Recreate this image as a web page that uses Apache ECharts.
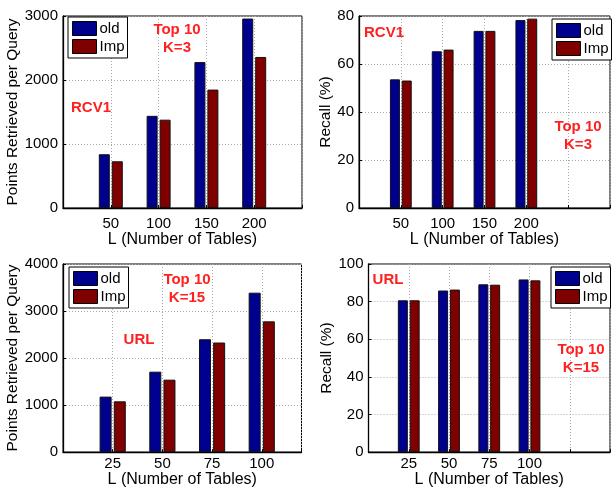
<!DOCTYPE html>
<html>
<head>
<meta charset="utf-8">
<script src="https://cdn.jsdelivr.net/npm/echarts@6/dist/echarts.min.js"></script>
<style>
html,body{margin:0;padding:0;background:#fff;}
#chart{width:613px;height:489px;}
</style>
</head>
<body>
<div id="chart"></div>
<script>
// ---- data ----
const seriesNames = ['old', 'Imp'];
// Panel A: RCV1, points retrieved (K=3)
const tablesA = [50, 100, 150, 200];
const pointsOldA = [840, 1440, 2280, 2960];
const pointsImpA = [730, 1380, 1850, 2360];
// Panel B: RCV1, recall (K=3)
const recallOldB = [53.6, 65.3, 73.8, 78.3];
const recallImpB = [53.1, 66.0, 73.8, 78.9];
// Panel C: URL, points retrieved (K=15)
const tablesC = [25, 50, 75, 100];
const pointsOldC = [1180, 1710, 2400, 3390];
const pointsImpC = [1080, 1540, 2330, 2780];
// Panel D: URL, recall (K=15)
const recallOldD = [80.7, 85.9, 89.2, 91.8];
const recallImpD = [80.7, 86.4, 89.0, 91.3];
// text
const xName = 'L (Number of Tables)';
const yNamePoints = 'Points Retrieved per Query';
const yNameRecall = 'Recall (%)';
const notesA = ['Top 10\nK=3', 'RCV1'];
const notesB = ['RCV1', 'Top 10\nK=3'];
const notesC = ['Top 10\nK=15', 'URL'];
const notesD = ['URL', 'Top 10\nK=15'];

const FONT = '"Liberation Sans", Arial, Helvetica, sans-serif';
const BLUE = '#00008F';
const RED = '#800000';
const NOTE = '#ff2020';

const chart = echarts.init(document.getElementById('chart'), null, {renderer: 'canvas'});

const grids = [
  {left: 63, top: 16, right: 311, bottom: 281},
  {left: 359, top: 16, right: -2, bottom: 281},
  {left: 63, top: 264, right: 311.5, bottom: 33.3},
  {left: 368.5, top: 264, right: -1, bottom: 33.3}
].map(g => Object.assign({show: true, borderColor: '#000', borderWidth: 1, backgroundColor: 'transparent'}, g));

function xAxis(gi, max, interval, cats, nameGap, labelMargin) {
  return {
    type: 'value', gridIndex: gi, min: 0, max: max, interval: interval,
    name: xName, nameLocation: 'middle', nameGap: nameGap,
    nameTextStyle: {fontFamily: FONT, fontSize: 16, color: '#000'},
    axisLine: {show: true, onZero: false, lineStyle: {color: '#000', width: 1.3}},
    axisTick: {show: true, inside: true, length: 3, lineStyle: {color: '#000'}},
    axisLabel: {
      fontFamily: FONT, fontSize: 15, color: '#000', margin: labelMargin,
      formatter: v => (cats.indexOf(v) >= 0 ? String(v) : '')
    },
    splitLine: {show: true, lineStyle: {color: '#aaa', type: [1, 2], width: 1}}
  };
}
function yAxis(gi, max, interval, name, nameGap) {
  return {
    type: 'value', gridIndex: gi, min: 0, max: max, interval: interval,
    name: name, nameLocation: 'middle', nameGap: nameGap,
    nameTextStyle: {fontFamily: FONT, fontSize: 15.5, color: '#000'},
    axisLine: {show: true, lineStyle: {color: '#000', width: 1.3}},
    axisTick: {show: true, inside: true, length: 3, lineStyle: {color: '#000'}},
    axisLabel: {fontFamily: FONT, fontSize: 15, color: '#000', margin: 5,
      formatter: v => String(v)},
    splitLine: {show: true, lineStyle: {color: '#aaa', type: [1, 2], width: 1}}
  };
}
function pairs(xs, ys) { return xs.map((x, i) => [x, ys[i]]); }
function bar(gi, name, color, xs, ys, w) {
  return {
    type: 'bar', name: name, xAxisIndex: gi, yAxisIndex: gi,
    data: pairs(xs, ys), barWidth: w, barGap: '18%',
    itemStyle: {color: color, borderColor: '#111', borderWidth: 1},
    emphasis: {disabled: true}, animation: false
  };
}
function legend(pos) {
  return Object.assign({
    orient: 'vertical', data: seriesNames, icon: 'rect',
    itemWidth: 24, itemHeight: 14, itemGap: 3,
    padding: [4, 3, 4, 4], borderColor: '#000', borderWidth: 1,
    backgroundColor: '#fff', selectedMode: false,
    itemStyle: {borderColor: '#000', borderWidth: 1},
    textStyle: {fontFamily: FONT, fontSize: 15, color: '#000', padding: [0, 0, 0, -2]}
  }, pos);
}
function note(text, x, y) {
  return {
    type: 'text', z: 100, x: x, y: y,
    style: {
      text: text, textAlign: 'center', textVerticalAlign: 'middle',
      font: 'bold 15px ' + FONT, fill: NOTE, lineHeight: 18
    }
  };
}

const option = {
  backgroundColor: '#fff',
  animation: false,
  grid: grids,
  xAxis: [
    xAxis(0, 250, 50, tablesA, 22, 8),
    xAxis(1, 300, 50, tablesA, 22, 8),
    xAxis(2, 120, 25, tablesC, 18, 4),
    xAxis(3, 150, 25, tablesC, 18, 4)
  ],
  yAxis: [
    yAxis(0, 3000, 1000, yNamePoints, 41),
    yAxis(1, 80, 20, yNameRecall, 21),
    yAxis(2, 4000, 1000, yNamePoints, 41),
    yAxis(3, 100, 20, yNameRecall, 32)
  ],
  legend: [
    legend({left: 68, top: 17}),
    legend({left: 552, top: 19}),
    legend({left: 69, top: 267}),
    legend({left: 551, top: 267})
  ],
  series: [
    bar(0, seriesNames[0], BLUE, tablesA, pointsOldA, 11),
    bar(0, seriesNames[1], RED, tablesA, pointsImpA, 11),
    bar(1, seriesNames[0], BLUE, tablesA, recallOldB, 10),
    bar(1, seriesNames[1], RED, tablesA, recallImpB, 10),
    bar(2, seriesNames[0], BLUE, tablesC, pointsOldC, 12),
    bar(2, seriesNames[1], RED, tablesC, pointsImpC, 12),
    bar(3, seriesNames[0], BLUE, tablesC, recallOldD, 10),
    bar(3, seriesNames[1], RED, tablesC, recallImpD, 10)
  ],
  graphic: [
    note(notesA[0], 177, 39),
    note(notesA[1], 91, 108),
    note(notesB[0], 384, 33),
    note(notesB[1], 578, 135.5),
    note(notesC[0], 187, 288.5),
    note(notesC[1], 139, 340),
    note(notesD[0], 388, 280),
    note(notesD[1], 581, 359)
  ]
};
chart.setOption(option);
</script>
</body>
</html>
